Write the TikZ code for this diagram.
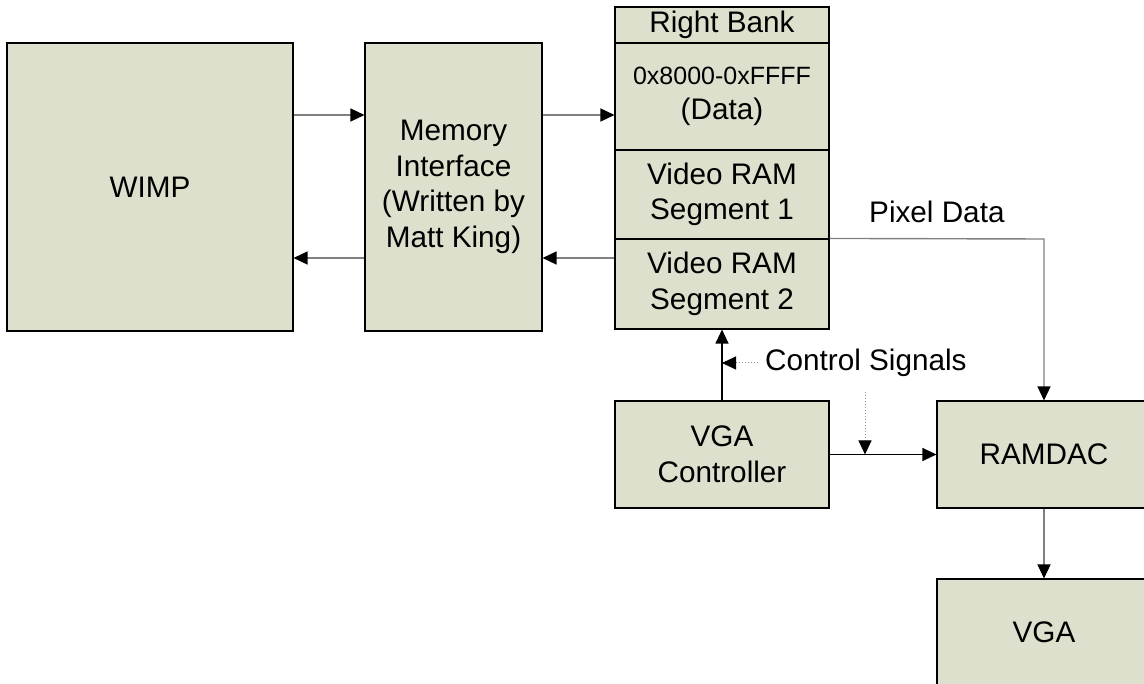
\documentclass[tikz,border=0pt]{standalone}
\usepackage{fontspec}
\setmainfont{Liberation Sans}
\usetikzlibrary{arrows.meta,calc}
\definecolor{boxfill}{RGB}{221,224,204}
\definecolor{wire}{RGB}{128,128,128}
\definecolor{dotwire}{RGB}{150,150,150}
\begin{document}
\begin{tikzpicture}[x=1pt,y=-1pt,
  tip/.tip={Triangle[length=14pt,width=13pt,fill=black,color=black]},
  block/.style={draw=black,line width=1.1pt,fill=boxfill,rectangle,inner sep=0pt,
    align=center,font=\fontsize{29.7}{35.5}\selectfont},
  conn/.style={draw=wire,line width=1.4pt,-tip},
  darkconn/.style={draw=black,line width=1.1pt,-tip},
  dotconn/.style={draw=dotwire,line width=1pt,dotted,-tip},
  lbl/.style={inner sep=0pt,font=\fontsize{29.7}{35}\selectfont}]
\useasboundingbox (0,0) rectangle (1144,684);
\clip (0,0) rectangle (1144,684);
\fill[white] (0,0) rectangle (1144,684);

% main blocks
\node[block,minimum width=286pt,minimum height=288pt] (wimp) at (150,187) {WIMP};
\node[block,minimum width=177pt,minimum height=288pt] (mem) at (453.5,187)
  {Memory\\Interface\\(Written by\\Matt King)};

% right bank, stacked cells
\node[block,minimum width=214pt,minimum height=36pt] (rbtitle) at (722,25) {Right Bank};
\node[block,minimum width=214pt,minimum height=107pt,font=\fontsize{25}{35.5}\selectfont] (rbdata) at (722,96.5)
  {0x8000-0xFFFF\\{\fontsize{29.7}{35.5}\selectfont(Data)}};
\node[block,minimum width=214pt,minimum height=89pt] (seg1) at (722,194.5) {Video RAM\\Segment 1};
\node[block,minimum width=214pt,minimum height=90pt] (seg2) at (722,284) {Video RAM\\Segment 2};

\node[block,minimum width=214pt,minimum height=107pt] (vgac) at (722,454.5) {VGA\\Controller};
\node[block,minimum width=214pt,minimum height=107pt] (ramdac) at (1044,454.5) {RAMDAC};
\node[block,minimum width=214pt,minimum height=107pt] (vga) at (1044,632.5) {VGA};

% labels
\node[lbl,anchor=west] (pixlbl) at (869,212) {Pixel Data};
\node[lbl,anchor=west] (ctllbl) at (765,363) {Control Signals};

% signal levels
\coordinate (upper) at (0,115);
\coordinate (lower) at (0,258);
\coordinate (ctlhit) at (865,454.5);
\coordinate (ctltop) at (865,392);
\coordinate (pixturn) at (1044,239);

% data paths
\draw[conn] (wimp.east |- upper) -- (mem.west |- upper);
\draw[conn] (mem.east |- upper) -- (rbdata.west |- upper);
\draw[conn] (seg2.west |- lower) -- (mem.east |- lower);
\draw[conn] (mem.west |- lower) -- (wimp.east |- lower);
\draw[conn] (seg2.north east) -- (pixturn) -- (ramdac.north);
\draw[conn] (ramdac.south) -- (vga.north);

% control paths
\draw[darkconn] (vgac.north) -- (seg2.south);
\draw[darkconn] (vgac.east) -- (ramdac.west);
\draw[dotconn] ([xshift=-7pt]ctllbl.west) -- (vgac.north |- ctllbl.west);
\draw[dotconn] (ctltop) -- (ctlhit);
\end{tikzpicture}
\end{document}
